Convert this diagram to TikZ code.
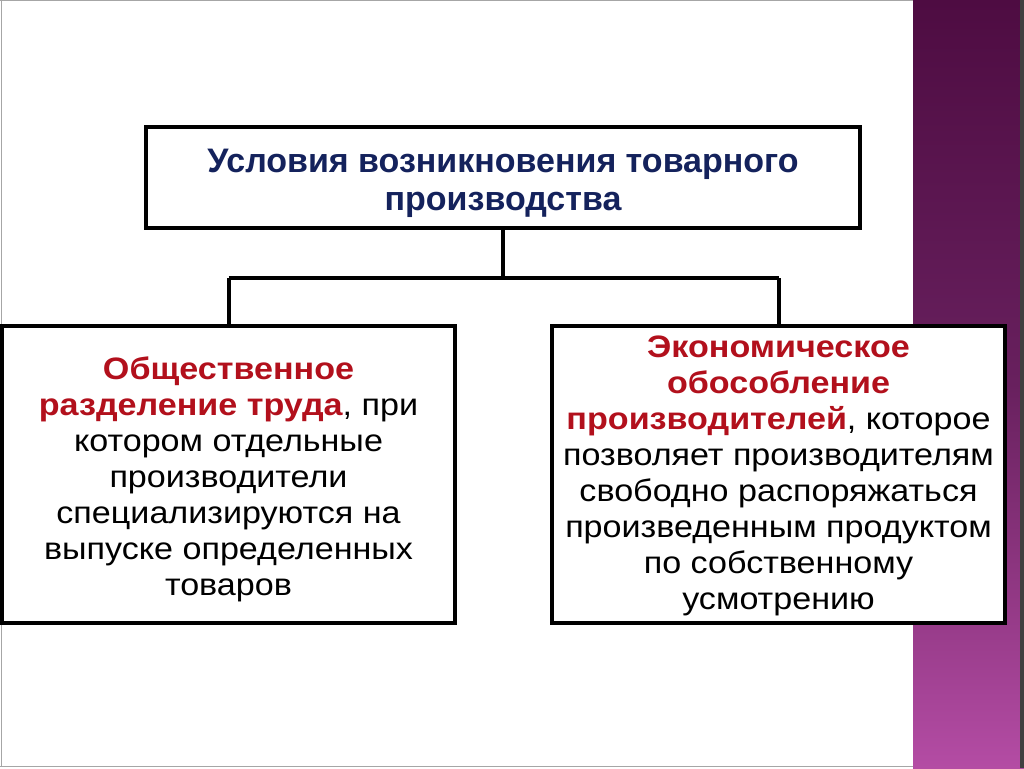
\documentclass[tikz,border=0pt]{standalone}
\usepackage{fontspec}
\setmainfont{Liberation Sans}
\newfontfamily\widesans[FakeStretch=1.1]{Liberation Sans}
\definecolor{navy}{RGB}{20,34,92}
\definecolor{dred}{RGB}{178,16,28}
\definecolor{ptop}{RGB}{78,12,66}
\definecolor{pmid}{RGB}{104,32,94}
\definecolor{pbot}{RGB}{180,76,164}
\begin{document}
\begin{tikzpicture}[x=1pt,y=-1pt,
  box/.style={draw=black,line width=4pt,fill=white,inner sep=0pt},
  conn/.style={draw=black,line width=4pt},
  title/.style={font=\fontsize{34}{38}\selectfont\bfseries,text=navy,align=center,inner sep=0pt,anchor=base},
  body/.style={font=\widesans\fontsize{31}{36}\selectfont,align=center,inner sep=0pt,anchor=base}]
\useasboundingbox (0,0) rectangle (1024,768);
\fill[white] (0,0) rectangle (1024,768);
% purple strip
\shade[top color=ptop,bottom color=pmid] (913,0) rectangle (1024,384);
\shade[top color=pmid,bottom color=pbot] (913,384) rectangle (1024,768);
\fill[black!75] (1020,0) rectangle (1024,768);
% slide border
\draw[gray!70,line width=1pt] (1,1) -- (1,767);
\draw[gray!70,line width=1pt] (0,1) -- (913,1);
\draw[gray!70,line width=1pt] (0,766.5) -- (913,766.5);
% boxes
\node[box,minimum width=714pt,minimum height=101pt] (top) at (503,177.5) {};
\node[box,minimum width=453pt,minimum height=297pt] (left) at (228.5,474.5) {};
\node[box,minimum width=453pt,minimum height=297pt] (right) at (778.5,474.5) {};
% texts
\node[title] (ttl) at (503,210) {Условия возникновения товарного\\производства};
\node[body] (ltx) at (228.5,595) {\textcolor{dred}{\bfseries Общественное}\\\textcolor{dred}{\bfseries разделение труда}, при\\котором отдельные\\производители\\специализируются на\\выпуске определенных\\товаров};
\node[body] (rtx) at (778.5,609) {\textcolor{dred}{\bfseries Экономическое}\\\textcolor{dred}{\bfseries обособление}\\\textcolor{dred}{\bfseries производителей}, которое\\позволяет производителям\\свободно распоряжаться\\произведенным продуктом\\по собственному\\усмотрению};
% connectors
\coordinate (j) at (503,278);
\draw[conn] (top.south) -- (j);
\draw[conn] (228.5,278) -- (778.5,278);
\draw[conn] (228.5,278) -- (left.north);
\draw[conn] (778.5,278) -- (right.north);
\end{tikzpicture}
\end{document}
